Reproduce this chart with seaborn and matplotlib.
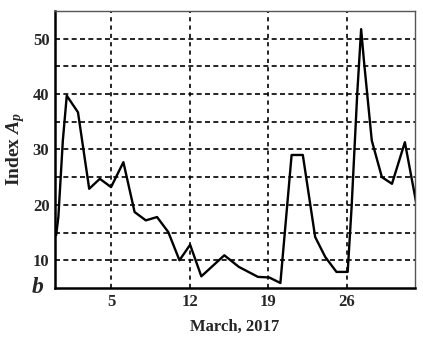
import matplotlib
matplotlib.use("Agg")
import matplotlib.pyplot as plt
import seaborn as sns
import pandas as pd

days = [0.1, 0.3, 0.7, 1.05, 1.55, 2.05, 3.05, 4.0, 5.0, 6.1, 7.1, 8.1, 9.1, 10.1, 11.1,
        12.05, 13.05, 15.1, 16.4, 18.1, 19.1, 20.1, 21.1, 22.1, 23.2, 24.1, 25.1, 26.1,
        26.45, 26.95, 27.3, 27.55, 28.25, 29.15, 30.05, 31.2, 32.2]
ap = [14.5, 17.8, 31.6, 39.7, 38.2, 36.7, 22.9, 24.7, 23.2, 27.7, 18.7, 17.2, 17.8, 15.1, 10.0,
      12.8, 7.1, 10.9, 8.8, 7.0, 6.9, 5.9, 29.0, 29.0, 14.2, 10.6, 7.9, 7.9,
      19.6, 40.0, 51.7, 46.0, 31.6, 25.0, 23.8, 31.3, 20.5]
xticks = [5, 12, 19, 26]
yticks = [10, 20, 30, 40, 50]
ygrid = [10, 15, 20, 25, 30, 35, 40, 45, 50]

sns.set_style("white")
plt.rcParams['font.family'] = ['Liberation Serif', 'DejaVu Serif']
plt.rcParams['mathtext.fontset'] = 'custom'
plt.rcParams['mathtext.it'] = 'Liberation Serif:italic:bold'
plt.rcParams['mathtext.rm'] = 'Liberation Serif:bold'

df = pd.DataFrame({"day": days, "Ap": ap})

fig = plt.figure(figsize=(4.23, 3.40), dpi=100)
ax = fig.add_axes([0.130, 0.153, 0.851, 0.815])

for g in ygrid:
    ax.axhline(g, color="black", lw=1.2, ls=(0, (3, 2)), zorder=1)
for g in xticks:
    ax.axvline(g, color="black", lw=1.2, ls=(0, (2.5, 2.5)), zorder=1)

sns.lineplot(data=df, x="day", y="Ap", sort=False, color="black", lw=1.7, ax=ax, zorder=3)

ax.set_xlim(0, 32.1)
ax.set_ylim(5, 55)
ax.set_xticks(xticks)
ax.set_yticks(yticks)
ax.set_xticklabels([str(t) for t in xticks], fontsize=12, fontweight="bold")
ax.set_yticklabels([str(t) for t in yticks], fontsize=12, fontweight="bold")
ax.tick_params(length=0, pad=4)
ax.tick_params(axis="x", pad=4)
ax.set_xlabel("March, 2017", fontsize=12, fontweight="bold", labelpad=7)
ax.set_ylabel(r"Index $A_p$", fontsize=14, fontweight="bold", labelpad=4)

for s in ["left", "bottom"]:
    ax.spines[s].set_color("black")
    ax.spines[s].set_linewidth(1.8)
for s in ["top", "right"]:
    ax.spines[s].set_color("#555555")
    ax.spines[s].set_linewidth(1.0)

fig.text(0.09, 0.155, "b", fontsize=17, fontweight="bold", fontstyle="italic",
         ha="center", va="center")

fig.savefig("out.png", dpi=100)
